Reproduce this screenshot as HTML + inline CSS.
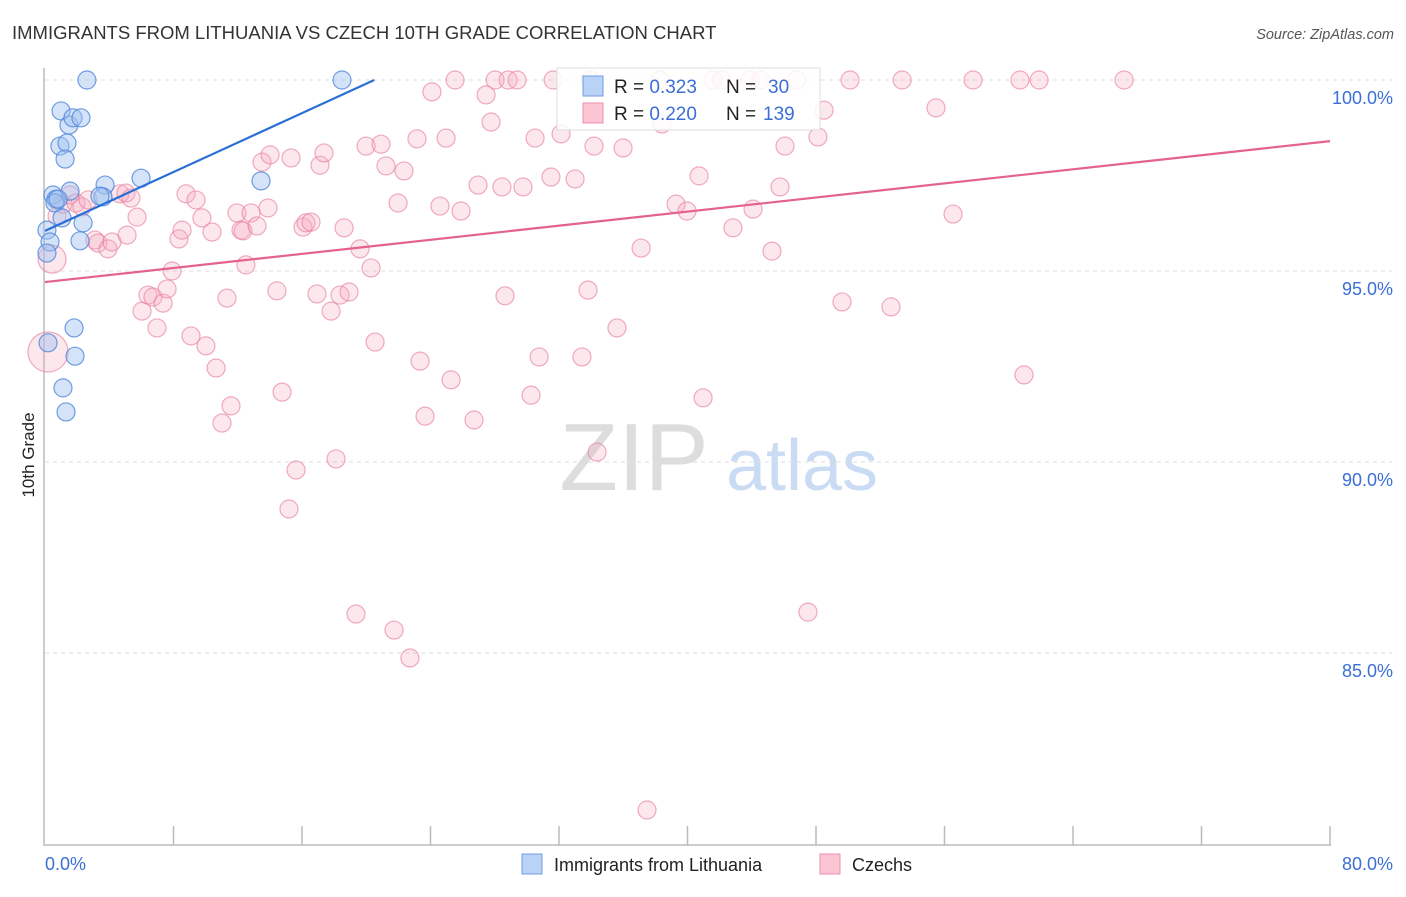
<!DOCTYPE html>
<html><head><meta charset="utf-8"><style>
body{margin:0;background:#fff;font-family:"Liberation Sans",sans-serif}
svg text{font-family:"Liberation Sans",sans-serif}
</style></head><body>
<svg id="c" width="1406" height="892" xmlns="http://www.w3.org/2000/svg">
<text x="12" y="39" font-size="18.5" fill="#333">IMMIGRANTS FROM LITHUANIA VS CZECH 10TH GRADE CORRELATION CHART</text>
<text x="1394" y="39" font-size="14.5" fill="#555" font-style="italic" text-anchor="end">Source: ZipAtlas.com</text>
<text transform="translate(34,455) rotate(-90)" font-size="17" fill="#222" text-anchor="middle">10th Grade</text>
<g><text x="634" y="490" font-size="96" fill="#ddd" font-family="Liberation Serif,serif" text-anchor="middle">ZIP</text><text x="802" y="490" font-size="72" fill="#c9dcf3" text-anchor="middle">atlas</text></g>
<g id="grid"></g><g id="marks"></g>
<g>
<rect x="557" y="68" width="263" height="62" fill="#fff" fill-opacity="0.85" stroke="#ddd"/>
<rect x="583" y="76" width="20" height="20" fill="#b8d3f6" stroke="#6f9de2"/>
<rect x="583" y="103" width="20" height="20" fill="#fbc5d4" stroke="#ec8fab"/>
<text x="614" y="93" font-size="19" fill="#222">R = <tspan fill="#3b6fd6">0.323</tspan><tspan x="726">N = </tspan><tspan x="768" fill="#3b6fd6">30</tspan></text>
<text x="614" y="120" font-size="19" fill="#222">R = <tspan fill="#3b6fd6">0.220</tspan><tspan x="726">N = </tspan><tspan x="763" fill="#3b6fd6">139</tspan></text>
</g>
<g>
<rect x="522" y="854" width="20" height="20" fill="#b8d3f6" stroke="#6f9de2"/>
<text x="554" y="871" font-size="18" fill="#222">Immigrants from Lithuania</text>
<rect x="820" y="854" width="20" height="20" fill="#fbc5d4" stroke="#ec8fab"/>
<text x="852" y="871" font-size="18" fill="#222">Czechs</text>
</g>
</svg>
<script>
const yTicks=[100,95,90,85];
const yTickLabels=["100.0%","95.0%","90.0%","85.0%"];
const xTickCount=10;
const xEndLabels=["0.0%","80.0%"];
const blueX=[2.61,18.49,1.00,1.49,1.74,2.24,0.93,1.37,1.25,5.98,13.45,3.74,1.56,0.50,0.68,0.62,3.61,2.37,1.06,0.12,0.31,2.18,0.12,1.81,1.87,1.12,1.31,0.19,0.81,3.42];
const blueY=[100,100,99.19,98.82,99.01,99.01,98.27,98.35,97.93,97.43,97.36,97.25,97.09,96.99,96.88,96.78,96.94,96.26,96.39,96.07,95.76,95.79,95.47,93.51,92.77,91.94,91.31,93.12,96.88,96.96];
const pinkX=[0.19,0.44,0.75,1.12,1.56,1.93,2.30,2.68,3.11,3.30,3.92,4.17,4.67,5.04,5.35,5.73,5.11,6.04,6.41,6.72,6.97,7.35,7.60,7.91,8.34,8.53,8.78,9.09,9.40,9.77,10.02,10.40,10.65,11.02,11.33,11.58,11.95,12.20,12.33,12.51,12.83,13.20,13.51,13.88,14.01,14.44,14.76,15.19,15.32,15.63,16.06,16.25,16.56,16.93,17.12,17.37,17.81,18.12,18.37,18.62,18.93,19.36,19.61,19.99,20.30,20.55,20.92,21.23,21.73,21.98,22.35,22.72,23.16,23.35,23.66,24.09,24.59,24.97,25.28,25.53,25.90,26.71,26.96,27.46,27.77,28.02,28.45,28.64,28.83,29.39,29.76,30.26,30.51,30.76,31.50,31.63,32.13,33.00,33.43,33.81,34.18,34.37,35.61,35.99,37.11,37.48,38.41,39.29,39.97,40.72,40.97,41.59,42.83,43.89,44.08,45.26,45.76,46.07,46.82,47.50,48.12,48.50,49.62,50.12,52.67,53.36,55.47,56.53,57.78,60.70,60.95,61.89,67.18,44.58,42.15,38.29,33.93];
const pinkY=[92.88,95.31,96.44,96.75,96.99,96.78,96.68,96.86,95.81,95.73,95.58,95.76,97.02,97.04,96.91,96.41,95.94,93.95,94.37,94.32,93.51,94.16,94.53,95.00,95.84,96.07,97.02,93.30,96.86,96.39,93.04,96.02,92.46,91.02,94.29,91.47,96.52,96.07,96.05,95.16,96.52,96.18,97.85,96.65,98.04,94.48,91.83,88.77,97.96,89.79,96.15,96.26,96.28,94.40,97.77,98.09,93.95,90.08,94.37,96.13,94.45,86.02,95.58,98.27,95.08,93.14,98.32,97.75,85.60,96.78,97.62,84.87,98.46,92.64,91.20,99.69,96.70,98.48,92.15,100,96.57,91.10,97.25,99.61,98.90,100,97.20,94.35,100,100,97.20,91.75,98.48,92.75,97.46,100,98.59,97.41,92.75,94.50,98.27,90.26,93.51,98.22,95.60,80.89,98.85,96.75,96.57,97.49,91.68,100,96.13,100,96.62,95.52,97.20,98.27,100,86.07,98.51,99.21,94.19,100,94.06,100,99.27,96.49,100,100,92.28,100,100,100,100,100,100];
const blueTrend=[0,96.05,20.5,100];
const pinkTrend=[0,94.71,80,98.40];
const NS="http://www.w3.org/2000/svg";
const X=v=>45+v*1285/80, Y=v=>80+(100-v)*38.2;
const grid=document.getElementById('grid'), marks=document.getElementById('marks');
function mk(tag,at,parent){const e=document.createElementNS(NS,tag);for(const k in at)e.setAttribute(k,at[k]);parent.appendChild(e);return e;}
yTicks.forEach((t,i)=>{
 const l=mk('line',{x1:45,x2:1392,y1:Y(t),y2:Y(t),stroke:'#ddd','stroke-dasharray':'4,4'},grid);
 
 
 const tx=mk('text',{x:1393,y:Y(t)+24,'font-size':18,fill:'#3b6fd6','text-anchor':'end'},grid);tx.textContent=yTickLabels[i];
 
 
});
const ax=mk('path',{d:'M44,68V845H1331',stroke:'#bbb',fill:'none','stroke-width':1.5},grid);


for(let i=1;i<=xTickCount;i++){const x=X(i*80/xTickCount);const t=mk('line',{x1:x,x2:x,y1:826,y2:845,stroke:'#bbb','stroke-width':1.5},grid);
 
 }
const xl0=mk('text',{x:45,y:870,'font-size':18,fill:'#3b6fd6'},grid);xl0.textContent=xEndLabels[0];


const xl1=mk('text',{x:1393,y:870,'font-size':18,fill:'#3b6fd6','text-anchor':'end'},grid);xl1.textContent=xEndLabels[1];


pinkX.forEach((v,i)=>{const r=i==0?20:(i==1?14:9);
 const c=mk('circle',{cx:X(v),cy:Y(pinkY[i]),r:r,fill:'#f5a9c0','fill-opacity':0.28,stroke:'#e8809d','stroke-opacity':0.65,'stroke-width':1.2},marks);
 
 });
blueX.forEach((v,i)=>{
 const c=mk('circle',{cx:X(v),cy:Y(blueY[i]),r:9,fill:'#9fc1f0','fill-opacity':0.45,stroke:'#4f86db','stroke-opacity':0.8,'stroke-width':1.2},marks);
 
 });
const bl=mk('line',{x1:X(blueTrend[0]),y1:Y(blueTrend[1]),x2:X(blueTrend[2]),y2:Y(blueTrend[3]),stroke:'#2a6fd6','stroke-width':2.2},marks);


const pl=mk('line',{x1:X(pinkTrend[0]),y1:Y(pinkTrend[1]),x2:X(pinkTrend[2]),y2:Y(pinkTrend[3]),stroke:'#e4628d','stroke-width':2.2},marks);


</script>
</body></html>
